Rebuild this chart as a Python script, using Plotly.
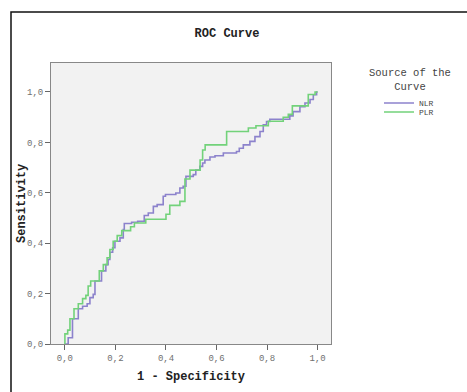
import plotly.graph_objects as go

# NLR ROC curve corners (1 - specificity, sensitivity)
nlr_fpr = [0.0, 0.013, 0.03, 0.053, 0.07, 0.088, 0.099, 0.112, 0.119, 0.145, 0.162, 0.171,
           0.178, 0.189, 0.198, 0.218, 0.231, 0.235, 0.264, 0.288, 0.314, 0.33, 0.35, 0.365,
           0.389, 0.398, 0.439, 0.455, 0.468, 0.479, 0.508, 0.518, 0.534, 0.545, 0.554, 0.574,
           0.594, 0.627, 0.679, 0.69, 0.706, 0.732, 0.752, 0.772, 0.785, 0.798, 0.811, 0.89,
           0.903, 0.93, 0.95, 0.97, 0.983, 0.996, 1.0]
nlr_tpr = [0.0, 0.025, 0.10, 0.14, 0.15, 0.16, 0.184, 0.197, 0.25, 0.29, 0.315, 0.335,
           0.364, 0.382, 0.408, 0.421, 0.454, 0.478, 0.483, 0.487, 0.51, 0.52, 0.546, 0.553,
           0.586, 0.593, 0.599, 0.619, 0.626, 0.665, 0.672, 0.69, 0.705, 0.718, 0.73, 0.742,
           0.747, 0.758, 0.764, 0.777, 0.79, 0.804, 0.823, 0.843, 0.87, 0.883, 0.892, 0.905,
           0.922, 0.942, 0.956, 0.97, 0.989, 1.0, 1.0]

# PLR ROC curve corners
plr_fpr = [0.0, 0.0, 0.011, 0.02, 0.036, 0.053, 0.07, 0.083, 0.092, 0.102, 0.136, 0.152,
           0.167, 0.178, 0.191, 0.207, 0.225, 0.26, 0.275, 0.32, 0.40, 0.415, 0.455, 0.475,
           0.495, 0.535, 0.545, 0.555, 0.64, 0.726, 0.756, 0.805, 0.864, 0.884, 0.90, 0.963,
           0.99, 1.0]
plr_tpr = [0.0, 0.04, 0.055, 0.10, 0.14, 0.16, 0.18, 0.193, 0.23, 0.25, 0.29, 0.315,
           0.342, 0.375, 0.408, 0.43, 0.45, 0.465, 0.48, 0.495, 0.515, 0.55, 0.566, 0.655,
           0.69, 0.73, 0.77, 0.79, 0.843, 0.857, 0.866, 0.884, 0.90, 0.911, 0.945, 0.99,
           1.0, 1.0]

tick_vals = [0.0, 0.2, 0.4, 0.6, 0.8, 1.0]
tick_text = ["0,0", "0,2", "0,4", "0,6", "0,8", "1,0"]

FONT = "Liberation Mono"

# plot area in pixels: x 51..331, y 63..344
PL, PR, PT, PB = 51, 331, 63, 344
PW, PH = PR - PL, PB - PT


def px_x(px):
    return (px - PL) / PW


def px_y(py):
    return (PB - py) / PH


fig = go.Figure()
fig.add_trace(go.Scatter(x=nlr_fpr, y=nlr_tpr, mode="lines", name="NLR", legend="legend",
                         line=dict(color="#8C82CC", width=1.6, shape="hv")))
fig.add_trace(go.Scatter(x=plr_fpr, y=plr_tpr, mode="lines", name="PLR", legend="legend2",
                         line=dict(color="#72D27A", width=1.6, shape="hv")))

axis_common = dict(
    tickvals=tick_vals, ticktext=tick_text, ticks="outside", ticklen=5,
    tickcolor="#666666", tickfont=dict(family=FONT, size=9, color="#707070"),
    showgrid=False, zeroline=False, showline=True, linecolor="#888888",
    linewidth=1, mirror=True,
)

legend_common = dict(
    x=px_x(379), xanchor="left", yanchor="middle",
    bgcolor="rgba(0,0,0,0)", borderwidth=0,
    font=dict(family=FONT, size=8, color="#444444"),
    itemwidth=30,
)

fig.update_layout(
    width=467, height=392,
    margin=dict(l=PL, r=467 - PR, t=PT, b=392 - PB, autoexpand=False),
    paper_bgcolor="white", plot_bgcolor="#F2F2F2",
    title=dict(text="<b>ROC Curve</b>", x=227 / 467, xanchor="center",
               y=1 - 33 / 392, yanchor="middle",
               font=dict(family=FONT, size=12, color="#222222")),
    xaxis=dict(range=[-0.055, 1.053],
               title=dict(text="<b>1 - Specificity</b>", standoff=8,
                          font=dict(family=FONT, size=12, color="#222222")),
               **axis_common),
    yaxis=dict(range=[0, 1.115], **axis_common),
    showlegend=True,
    legend=dict(y=px_y(103), **legend_common),
    legend2=dict(y=px_y(112), **legend_common),
    annotations=[
        dict(text="Source of the<br>Curve", xref="paper", yref="paper",
             x=px_x(410), y=px_y(80), xanchor="center", yanchor="middle",
             align="center", showarrow=False,
             font=dict(family=FONT, size=10.5, color="#444444")),
        dict(text="<b>Sensitivity</b>", xref="paper", yref="paper",
             x=px_x(22), y=px_y(203), xanchor="center", yanchor="middle",
             textangle=-90, showarrow=False,
             font=dict(family=FONT, size=12, color="#222222")),
    ],
    shapes=[dict(type="rect", xref="paper", yref="paper",
                 x0=px_x(11), x1=px_x(480), y0=px_y(400), y1=px_y(12),
                 line=dict(color="#111111", width=1.5), fillcolor="rgba(0,0,0,0)",
                 layer="below")],
)

fig.write_html("out.html", config={"displayModeBar": False},
               post_script="document.body.style.margin='0';")
